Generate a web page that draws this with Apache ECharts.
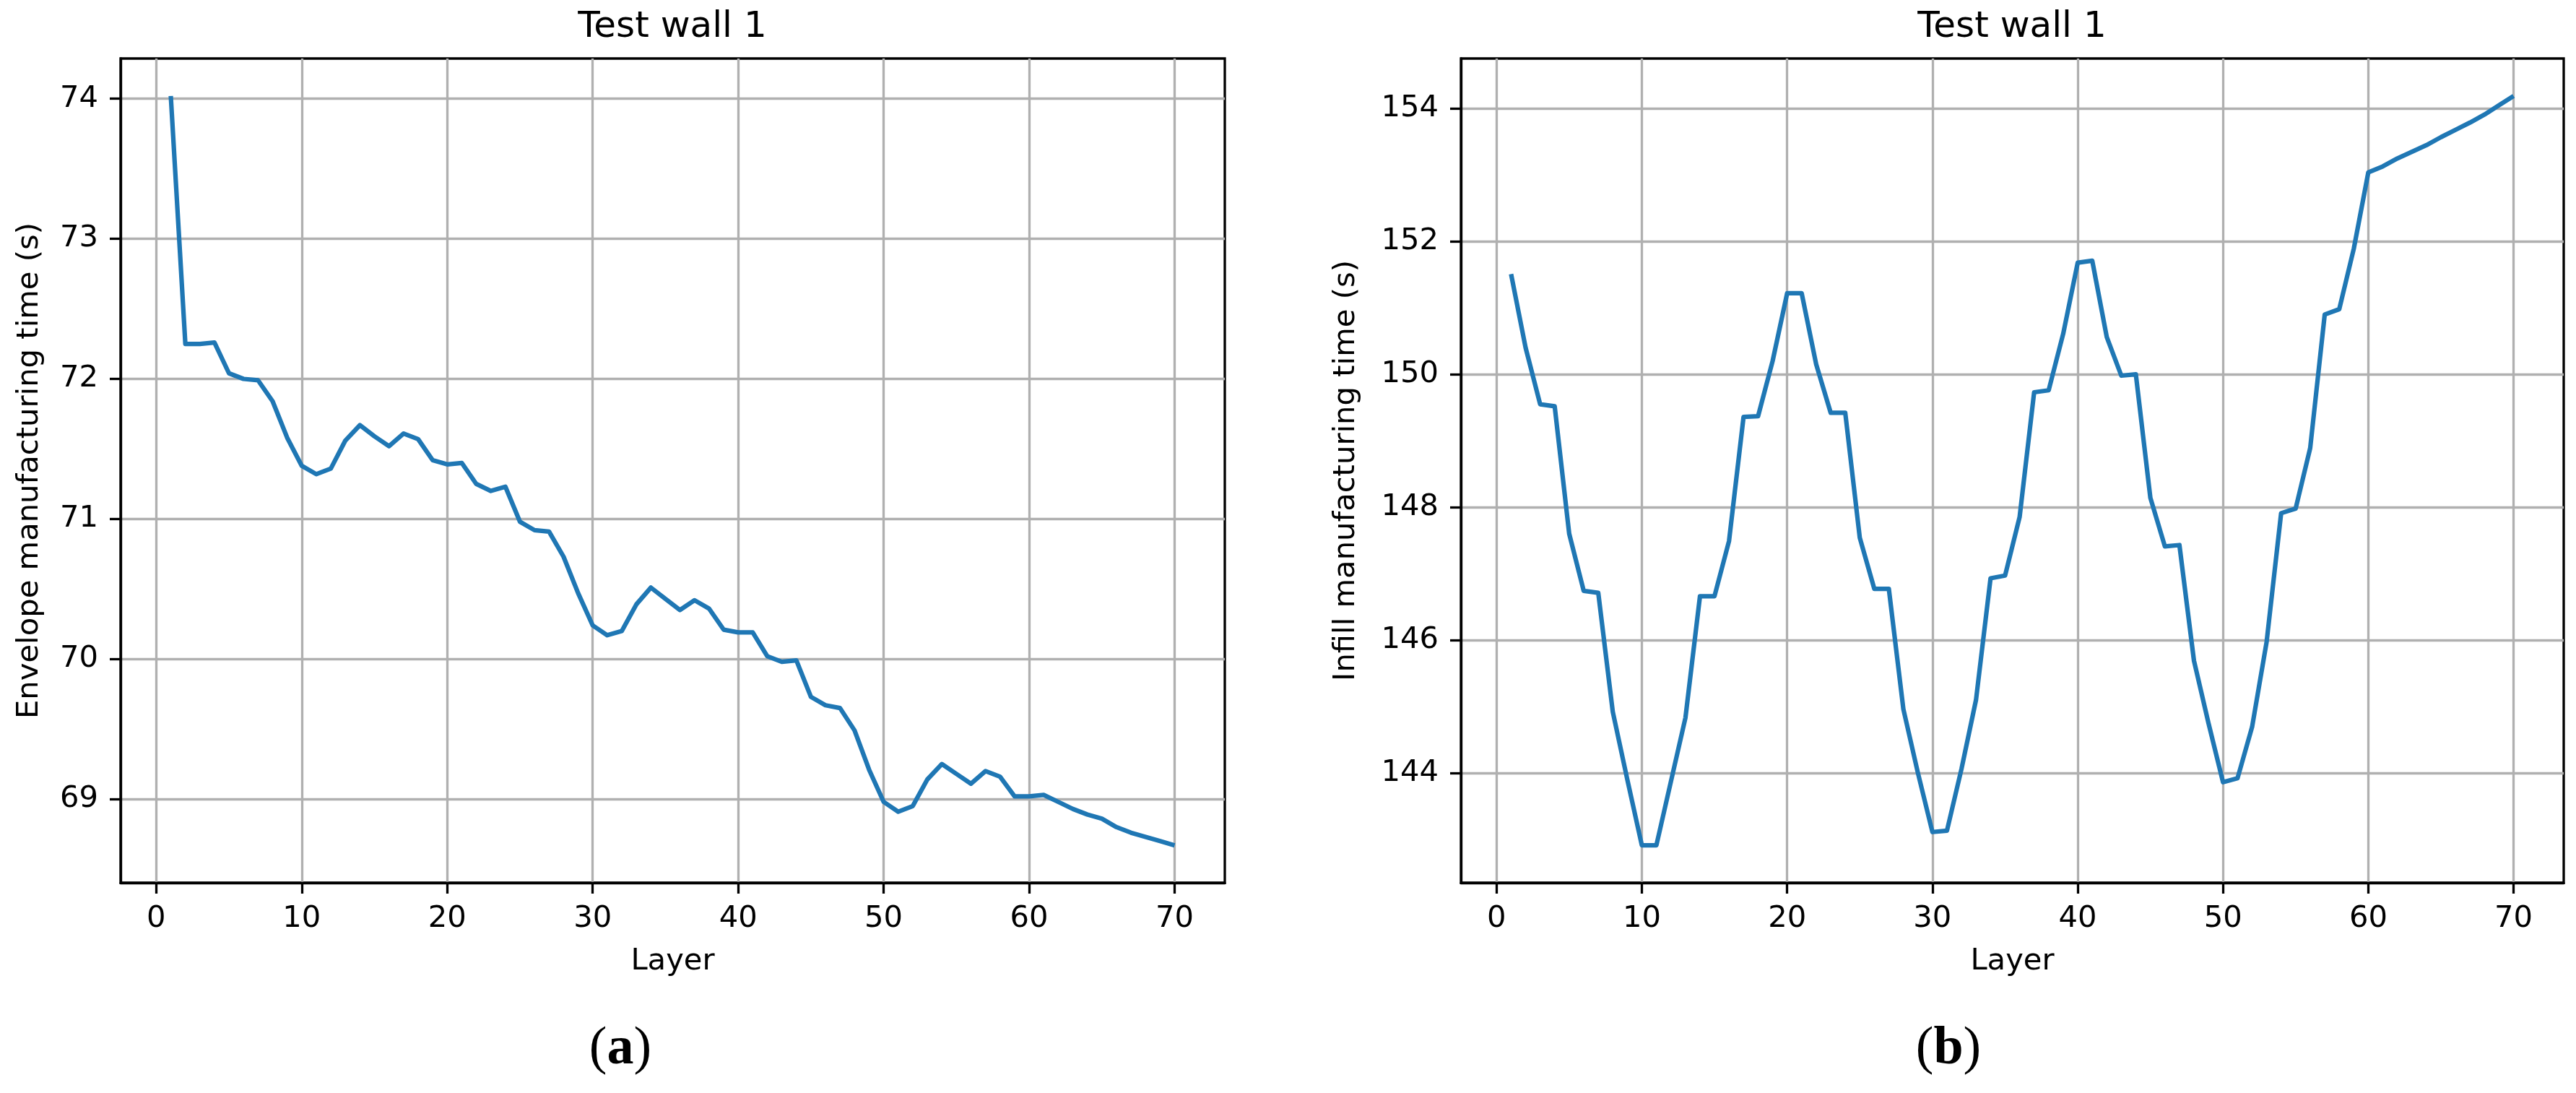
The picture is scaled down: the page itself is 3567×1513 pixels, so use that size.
<!DOCTYPE html>
<html>
<head>
<meta charset="utf-8">
<script src="https://cdn.jsdelivr.net/npm/echarts@6/dist/echarts.min.js"></script>
<style>
html,body{margin:0;padding:0;background:#fff;}
#c{width:3567px;height:1513px;}
</style>
</head>
<body>
<div id="c"></div>
<script>
// ---- data ----
const layers = [1,2,3,4,5,6,7,8,9,10,11,12,13,14,15,16,17,18,19,20,
  21,22,23,24,25,26,27,28,29,30,31,32,33,34,35,36,37,38,39,40,
  41,42,43,44,45,46,47,48,49,50,51,52,53,54,55,56,57,58,59,60,
  61,62,63,64,65,66,67,68,69,70];

const envelopeTime = [74.02,72.25,72.25,72.26,72.04,72.00,71.99,71.84,71.58,71.38,
  71.32,71.36,71.56,71.67,71.59,71.52,71.61,71.57,71.42,71.39,
  71.40,71.25,71.20,71.23,70.98,70.92,70.91,70.73,70.47,70.24,
  70.17,70.20,70.39,70.51,70.43,70.35,70.42,70.36,70.21,70.19,
  70.19,70.02,69.98,69.99,69.73,69.67,69.65,69.49,69.21,68.98,
  68.91,68.95,69.14,69.25,69.18,69.11,69.20,69.16,69.02,69.02,
  69.03,68.98,68.93,68.89,68.86,68.80,68.76,68.73,68.70,68.67];

const infillTime = [151.51,150.40,149.55,149.52,147.60,146.74,146.71,144.92,143.90,142.91,
  142.91,143.87,144.83,146.66,146.66,147.49,149.36,149.37,150.20,151.22,
  151.22,150.15,149.42,149.42,147.54,146.77,146.77,144.96,144.00,143.11,
  143.13,144.06,145.10,146.93,146.97,147.85,149.73,149.76,150.61,151.68,
  151.71,150.56,149.98,150.00,148.14,147.41,147.43,145.69,144.75,143.86,
  143.92,144.69,145.97,147.91,147.98,148.89,150.90,150.98,151.89,153.04,
  153.13,153.25,153.35,153.45,153.57,153.68,153.79,153.91,154.05,154.19];

const xTicks = [0,10,20,30,40,50,60,70];
const envTicks = [69,70,71,72,73,74];
const infTicks = [144,146,148,150,152,154];

const titles = ['Test wall 1','Test wall 1'];
const xName = 'Layer';
const yNames = ['Envelope manufacturing time (s)','Infill manufacturing time (s)'];
const captions = ['a','b'];

// ---- build ----
function range(arr){
  const mn = Math.min.apply(null, arr), mx = Math.max.apply(null, arr);
  const m = (mx - mn) * 0.05;
  return [mn - m, mx + m];
}
const xr = range(layers);
const er = range(envelopeTime);
const ir = range(infillTime);

const FONT = 'DejaVu Sans';
const FS = 41.7;
const LW = 3.3;

function xAxisDef(gi){
  return {
    gridIndex: gi, type: 'value', min: xr[0], max: xr[1],
    axisLine: {show: true, onZero: false, lineStyle: {color: '#000', width: LW}},
    axisTick: {show: true, inside: false, length: 15, customValues: xTicks, lineStyle: {color: '#000', width: LW}},
    axisLabel: {show: true, customValues: xTicks, margin: 29, fontSize: FS, fontFamily: FONT, color: '#000'},
    splitLine: {show: true, lineStyle: {color: '#b0b0b0', width: LW}},
    name: xName, nameLocation: 'middle', nameGap: 88,
    nameTextStyle: {fontSize: FS, fontFamily: FONT, color: '#000'}
  };
}
function yAxisDef(gi, r, ticks, name, gap){
  return {
    gridIndex: gi, type: 'value', min: r[0], max: r[1],
    axisLine: {show: true, onZero: false, lineStyle: {color: '#000', width: LW}},
    axisTick: {show: true, inside: false, length: 15, customValues: ticks, lineStyle: {color: '#000', width: LW}},
    axisLabel: {show: true, customValues: ticks, margin: 31, fontSize: FS, fontFamily: FONT, color: '#000'},
    splitLine: {show: true, lineStyle: {color: '#b0b0b0', width: LW}},
    name: name, nameLocation: 'middle', nameGap: gap, nameRotate: 90,
    nameTextStyle: {fontSize: FS, fontFamily: FONT, color: '#000'}
  };
}

const envData = layers.map((l, i) => [l, envelopeTime[i]]);
const infData = layers.map((l, i) => [l, infillTime[i]]);

const grids = [
  {left: 167, top: 81, width: 1529, height: 1141},
  {left: 2023, top: 81, width: 1527, height: 1141}
];

const chart = echarts.init(document.getElementById('c'), null, {renderer: 'canvas'});
const option = {
  backgroundColor: '#fff',
  animation: false,
  grid: grids.map(g => Object.assign({show: true, borderColor: '#000', borderWidth: LW, backgroundColor: 'transparent', containLabel: false}, g)),
  xAxis: [xAxisDef(0), xAxisDef(1)],
  yAxis: [yAxisDef(0, er, envTicks, yNames[0], 105), yAxisDef(1, ir, infTicks, yNames[1], 138)],
  series: [
    {type: 'line', xAxisIndex: 0, yAxisIndex: 0, data: envData, showSymbol: false, symbol: 'none',
     lineStyle: {color: '#1f77b4', width: 6.25, join: 'round', cap: 'butt'}, z: 3},
    {type: 'line', xAxisIndex: 1, yAxisIndex: 1, data: infData, showSymbol: false, symbol: 'none',
     lineStyle: {color: '#1f77b4', width: 6.25, join: 'round', cap: 'butt'}, z: 3}
  ],
  graphic: [
    {type: 'text', x: 931, y: 38, style: {text: titles[0], fontSize: 50, fontFamily: FONT, fill: '#000', align: 'center', verticalAlign: 'middle'}},
    {type: 'text', x: 2786, y: 38, style: {text: titles[1], fontSize: 50, fontFamily: FONT, fill: '#000', align: 'center', verticalAlign: 'middle'}},
    {type: 'text', x: 859, y: 1453, style: {text: '{p|(}{b|' + captions[0] + '}{p|)}', align: 'center', verticalAlign: 'middle',
      rich: {p: {fontSize: 74, fontFamily: 'Liberation Serif', fill: '#000'}, b: {fontSize: 74, fontFamily: 'Liberation Serif', fontWeight: 'bold', fill: '#000'}}}},
    {type: 'text', x: 2698, y: 1453, style: {text: '{p|(}{b|' + captions[1] + '}{p|)}', align: 'center', verticalAlign: 'middle',
      rich: {p: {fontSize: 74, fontFamily: 'Liberation Serif', fill: '#000'}, b: {fontSize: 74, fontFamily: 'Liberation Serif', fontWeight: 'bold', fill: '#000'}}}}
  ]
};
chart.setOption(option);
</script>
</body>
</html>
